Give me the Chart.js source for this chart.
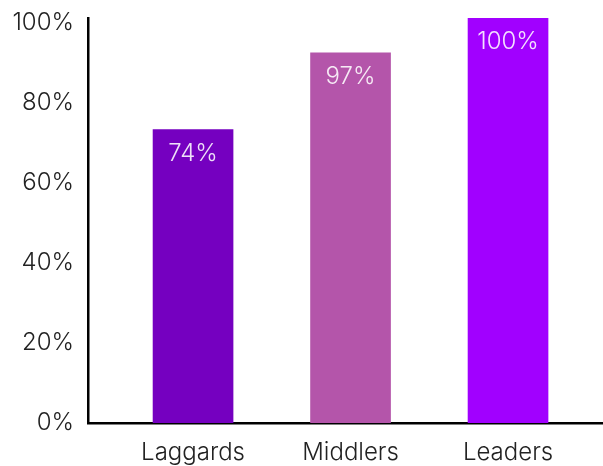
<!DOCTYPE html>
<html><head><meta charset="utf-8">
<script src="https://cdn.jsdelivr.net/npm/chart.js@4"></script>
<style>html,body{margin:0;padding:0;background:#fff}#wrap{width:603px;height:466px}</style>
</head><body><div id="wrap"><canvas id="c" width="603" height="466"></canvas></div>
<script>
const categories = ['Laggards', 'Middlers', 'Leaders'];
const barValues = [73.3, 92.5, 101.2];
const valueLabels = ['74%', '97%', '100%'];
const barColors = ['#7500c0', '#b455aa', '#a100ff'];
const yTicks = [0, 20, 40, 60, 80, 100];
const xPositions = [0, 1, 2];

const FONT = 'Inter, "Open Sans", sans-serif';

const labelPlugin = {
  id: 'valueLabels',
  afterDatasetsDraw(chart) {
    const ctx = chart.ctx;
    const meta = chart.getDatasetMeta(0);
    ctx.save();
    ctx.font = '300 24px ' + FONT;
    ctx.fillStyle = 'rgba(255,255,255,0.88)';
    ctx.textAlign = 'center';
    ctx.textBaseline = 'middle';
    meta.data.forEach((bar, i) => {
      ctx.fillText(valueLabels[i], bar.x, bar.y + 24);
    });
    ctx.restore();
  }
};

new Chart(document.getElementById('c'), {
  type: 'bar',
  data: {
    datasets: [{
      data: xPositions.map((x, i) => ({x: x, y: barValues[i]})),
      backgroundColor: barColors,
      barThickness: 80,
      borderWidth: 0
    }]
  },
  options: {
    responsive: false,
    animation: false,
    layout: {padding: {top: 18, right: 0, left: 0, bottom: 0}},
    plugins: {legend: {display: false}, tooltip: {enabled: false}},
    scales: {
      x: {
        type: 'linear',
        offset: false,
        grace: 0,
        min: -0.667,
        max: 2.603,
        grid: {display: false, drawTicks: false},
        border: {display: true, color: '#000', width: 2.5},
        afterBuildTicks(scale) { scale.ticks = xPositions.map(v => ({value: v})); },
        afterFit(scale) { scale.height = 43; scale.paddingLeft = 0; scale.paddingRight = 0; },
        ticks: {
          padding: 15,
          color: '#222',
          autoSkip: false,
          maxRotation: 0,
          font: {family: FONT, size: 24, weight: 300},
          callback: (v) => categories[Math.round(v)] ?? ''
        }
      },
      y: {
        min: 0,
        max: 101.2,
        grid: {display: false, drawTicks: false},
        border: {display: true, color: '#000', width: 2.5},
        afterBuildTicks(scale) { scale.ticks = yTicks.map(v => ({value: v})); },
        afterFit(scale) { scale.width = 88; scale.paddingTop = 0; scale.paddingBottom = 0; },
        ticks: {
          padding: 14,
          color: '#222',
          font: {family: FONT, size: 24, weight: 300},
          callback: (v) => v + '%'
        }
      }
    }
  },
  plugins: [labelPlugin]
});
</script>
</body></html>
